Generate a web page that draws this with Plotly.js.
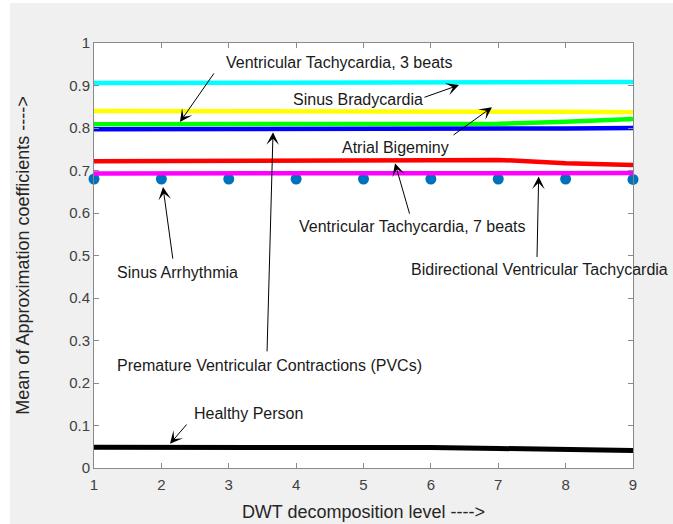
<!DOCTYPE html>
<html>
<head>
<meta charset="utf-8">
<script src="https://cdn.plot.ly/plotly-3.0.1.min.js"></script>
<style>
  html, body { margin: 0; padding: 0; background: #ffffff; }
  #chart { position: absolute; left: 10px; top: 3px; width: 663px; height: 521px; }
</style>
</head>
<body>
<div id="chart"></div>
<script>
// DWT decomposition levels
const levels = [1, 2, 3, 4, 5, 6, 7, 8, 9];

// Mean of approximation coefficients per condition
const sinusBradycardia   = [0.906, 0.906, 0.906, 0.906, 0.906, 0.906, 0.906, 0.907, 0.908]; // cyan
const atrialBigeminy     = [0.840, 0.840, 0.840, 0.840, 0.840, 0.839, 0.839, 0.838, 0.837]; // yellow
const vt3Beats           = [0.809, 0.809, 0.809, 0.809, 0.809, 0.809, 0.810, 0.815, 0.821]; // green
const pvcs               = [0.797, 0.797, 0.797, 0.797, 0.797, 0.797, 0.798, 0.799, 0.800]; // blue
const vt7Beats           = [0.722, 0.722, 0.722, 0.722, 0.723, 0.724, 0.725, 0.717, 0.713]; // red
const bidirectionalVT    = [0.693, 0.693, 0.693, 0.693, 0.693, 0.692, 0.692, 0.692, 0.694]; // magenta
const sinusArrhythmia    = [0.680, 0.680, 0.680, 0.680, 0.680, 0.680, 0.680, 0.680, 0.679]; // dots
const healthyPerson      = [0.049, 0.049, 0.049, 0.049, 0.049, 0.048, 0.046, 0.044, 0.041]; // black

const xTicks = [1, 2, 3, 4, 5, 6, 7, 8, 9];
const yTicks = [0, 0.1, 0.2, 0.3, 0.4, 0.5, 0.6, 0.7, 0.8, 0.9, 1];
const yTickText = ['0', '0.1', '0.2', '0.3', '0.4', '0.5', '0.6', '0.7', '0.8', '0.9', '1'];

const FONT = 'Liberation Sans, Arial, sans-serif';
const LW = 4.5;
function line(y, color, w) {
  return { x: levels, y: y, type: 'scatter', mode: 'lines',
           line: { color: color, width: w || LW }, hoverinfo: 'skip', showlegend: false };
}

const traces = [
  { x: levels, y: sinusArrhythmia, type: 'scatter', mode: 'markers',
    marker: { color: '#0072BD', size: 11 }, cliponaxis: false, showlegend: false },
  line(sinusBradycardia, '#00FFFF'),
  line(atrialBigeminy, '#FFFF00'),
  line(vt3Beats, '#00FF00'),
  line(pvcs, '#0000FF'),
  line(vt7Beats, '#FF0000'),
  line(bidirectionalVT, '#FF00FF'),
  line(healthyPerson, '#000000', 5)
];

const txtFont = { family: FONT, size: 16, color: '#1a1a1a' };

function label(text, x, y) {
  return { text: text, x: x, y: y, xref: 'x', yref: 'y', showarrow: false,
           font: txtFont, xanchor: 'center', yanchor: 'middle' };
}
function arrow(tx, ty, hx, hy) {
  return { text: '', x: hx, y: hy, ax: tx, ay: ty, xref: 'x', yref: 'y',
           axref: 'x', ayref: 'y', showarrow: true, arrowhead: 3, arrowsize: 2.1,
           arrowwidth: 1, arrowcolor: '#000000', standoff: 0, startstandoff: 0 };
}

const annotations = [
  label('Ventricular Tachycardia, 3 beats', 4.640, 0.955),
  arrow(2.796, 0.932, 2.276, 0.814),
  label('Sinus Bradycardia', 4.917, 0.866),
  arrow(5.883, 0.871, 6.417, 0.901),
  label('Atrial Bigeminy', 5.468, 0.755),
  arrow(6.314, 0.781, 6.907, 0.849),
  label('Ventricular Tachycardia, 7 beats', 5.720, 0.569),
  arrow(5.690, 0.595, 5.468, 0.717),
  label('Bidirectional Ventricular Tachycardia', 7.605, 0.466),
  arrow(7.575, 0.493, 7.600, 0.686),
  label('Sinus Arrhythmia', 2.232, 0.461),
  arrow(2.173, 0.489, 2.024, 0.661),
  label('Premature Ventricular Contractions (PVCs)', 3.612, 0.242),
  arrow(3.568, 0.271, 3.657, 0.790),
  label('Healthy Person', 3.300, 0.129),
  arrow(2.395, 0.106, 2.128, 0.057)
];

const axisCommon = {
  showline: true, linecolor: '#8a8a8a', linewidth: 1, mirror: 'ticks',
  ticks: 'inside', ticklen: 5, tickcolor: '#8a8a8a', tickwidth: 1,
  showgrid: false, zeroline: false,
  tickfont: { family: FONT, size: 15, color: '#404040' }
};

const layout = {
  width: 663, height: 521,
  margin: { l: 84, r: 40, t: 40, b: 56, pad: 0 },
  paper_bgcolor: '#f0f0f0', plot_bgcolor: '#ffffff',
  showlegend: false,
  xaxis: Object.assign({}, axisCommon, {
    range: [1, 9], tickvals: xTicks, ticktext: xTicks.map(String),
    automargin: false, ticklabelstandoff: 3,
    title: { text: 'DWT decomposition level ---->', standoff: 13,
             font: { family: FONT, size: 18, color: '#262626' } }
  }),
  yaxis: Object.assign({}, axisCommon, {
    range: [0, 1], tickvals: yTicks, ticktext: yTickText,
    automargin: false,
    title: { text: 'Mean of Approximation coefficients ---->', standoff: 34,
             font: { family: FONT, size: 18, color: '#262626' } }
  }),
  annotations: annotations
};

Plotly.newPlot('chart', traces, layout, { staticPlot: true, displayModeBar: false });
</script>
</body>
</html>
